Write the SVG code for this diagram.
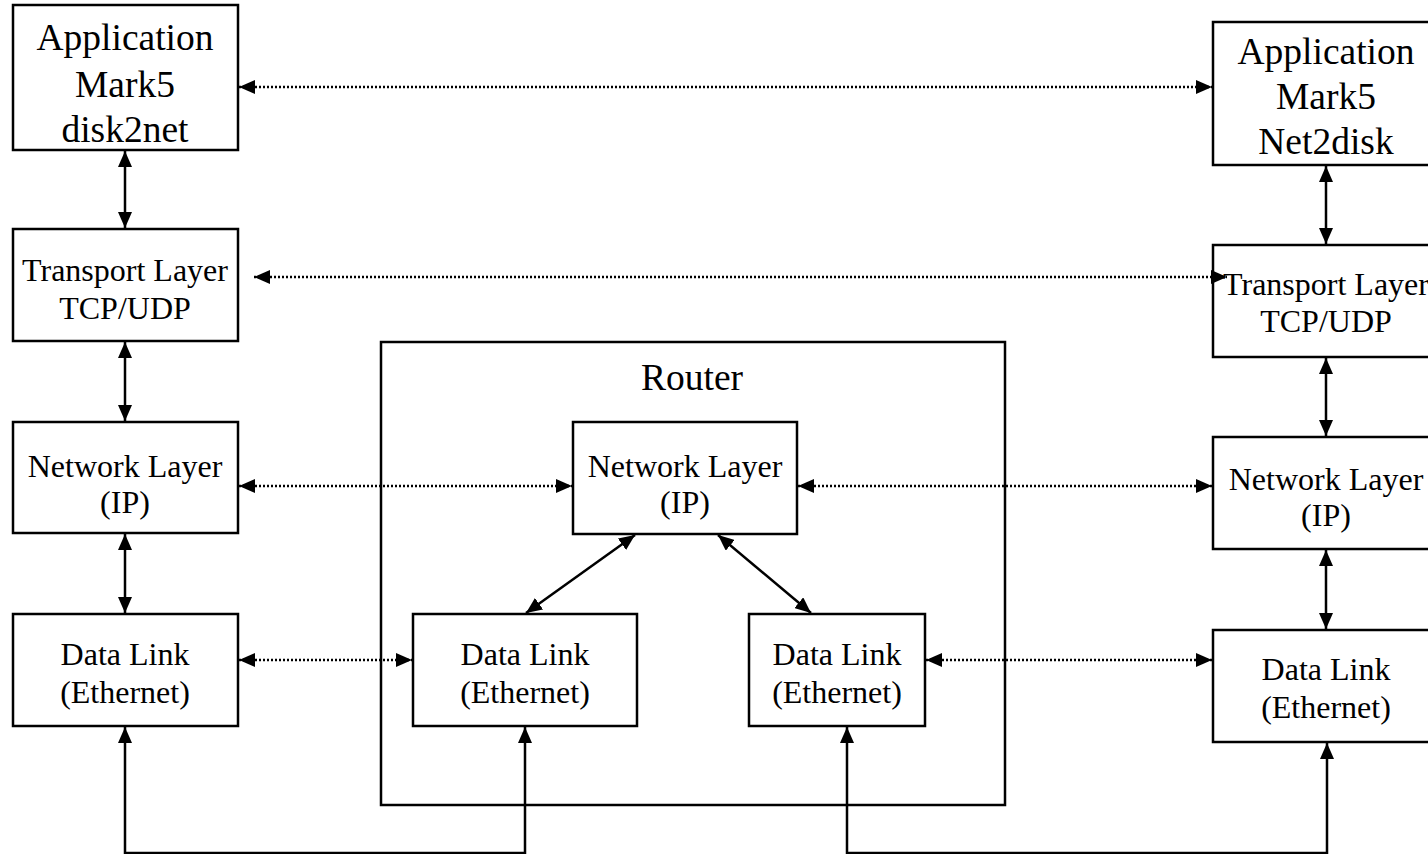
<svg xmlns="http://www.w3.org/2000/svg" width="1428" height="854" viewBox="0 0 1428 854">
<style>
.box{fill:#fff;stroke:#000;stroke-width:2.5}
.t{font-family:"Liberation Serif","Times New Roman",serif;fill:#000;text-anchor:middle}
.big{font-size:37.5px}
.sm{font-size:32px}
.solid{fill:none;stroke:#000;stroke-width:2.5}
.dot{fill:none;stroke:#000;stroke-width:2.5;stroke-dasharray:2 2}
</style>
<defs>
<marker id="ah" markerWidth="16" markerHeight="14" refX="16" refY="7" orient="auto-start-reverse" markerUnits="userSpaceOnUse">
<path d="M0,0 L16,7 L0,14 Z" fill="#000"/>
</marker>
</defs>
<rect width="1428" height="854" fill="#fff"/>
<g id="router">
<rect class="box" x="381" y="342" width="624" height="463" fill="none"/>
<text class="t big" x="692" y="390">Router</text>
</g>
<g id="app-left">
<rect class="box" x="13" y="5" width="225" height="145"/>
<text class="t big" x="125" y="50">Application</text>
<text class="t big" x="125" y="97">Mark5</text>
<text class="t big" x="125" y="142">disk2net</text>
</g>
<g id="app-right">
<rect class="box" x="1213" y="22" width="230" height="143"/>
<text class="t big" x="1326" y="64">Application</text>
<text class="t big" x="1326" y="109">Mark5</text>
<text class="t big" x="1326" y="154">Net2disk</text>
</g>
<g id="transport-left">
<rect class="box" x="13" y="229" width="225" height="112"/>
<text class="t sm" x="125" y="281">Transport Layer</text>
<text class="t sm" x="125" y="319">TCP/UDP</text>
</g>
<g id="transport-right">
<rect class="box" x="1213" y="245" width="230" height="112"/>
<text class="t sm" x="1326" y="295">Transport Layer</text>
<text class="t sm" x="1326" y="332">TCP/UDP</text>
</g>
<g id="network-left">
<rect class="box" x="13" y="422" width="225" height="111"/>
<text class="t sm" x="125" y="477">Network Layer</text>
<text class="t sm" x="125" y="513">(IP)</text>
</g>
<g id="network-router">
<rect class="box" x="573" y="422" width="224" height="112"/>
<text class="t sm" x="685" y="477">Network Layer</text>
<text class="t sm" x="685" y="513">(IP)</text>
</g>
<g id="network-right">
<rect class="box" x="1213" y="437" width="230" height="112"/>
<text class="t sm" x="1326" y="490">Network Layer</text>
<text class="t sm" x="1326" y="526">(IP)</text>
</g>
<g id="datalink-left">
<rect class="box" x="13" y="614" width="225" height="112"/>
<text class="t sm" x="125" y="665">Data Link</text>
<text class="t sm" x="125" y="703">(Ethernet)</text>
</g>
<g id="datalink-router1">
<rect class="box" x="413" y="614" width="224" height="112"/>
<text class="t sm" x="525" y="665">Data Link</text>
<text class="t sm" x="525" y="703">(Ethernet)</text>
</g>
<g id="datalink-router2">
<rect class="box" x="749" y="614" width="176" height="112"/>
<text class="t sm" x="837" y="665">Data Link</text>
<text class="t sm" x="837" y="703">(Ethernet)</text>
</g>
<g id="datalink-right">
<rect class="box" x="1213" y="630" width="230" height="112"/>
<text class="t sm" x="1326" y="680">Data Link</text>
<text class="t sm" x="1326" y="718">(Ethernet)</text>
</g>
<g id="connectors">
<line class="solid" x1="125" y1="151" x2="125" y2="228" marker-start="url(#ah)" marker-end="url(#ah)"/>
<line class="solid" x1="125" y1="342" x2="125" y2="421" marker-start="url(#ah)" marker-end="url(#ah)"/>
<line class="solid" x1="125" y1="534" x2="125" y2="613" marker-start="url(#ah)" marker-end="url(#ah)"/>
<line class="solid" x1="1326" y1="166" x2="1326" y2="244" marker-start="url(#ah)" marker-end="url(#ah)"/>
<line class="solid" x1="1326" y1="358" x2="1326" y2="436" marker-start="url(#ah)" marker-end="url(#ah)"/>
<line class="solid" x1="1326" y1="550" x2="1326" y2="629" marker-start="url(#ah)" marker-end="url(#ah)"/>
<line class="solid" x1="635" y1="535" x2="526" y2="613" marker-start="url(#ah)" marker-end="url(#ah)"/>
<line class="solid" x1="718" y1="535" x2="811" y2="613" marker-start="url(#ah)" marker-end="url(#ah)"/>
<polyline class="solid" points="125,727 125,853 525,853 525,727" marker-start="url(#ah)" marker-end="url(#ah)"/>
<polyline class="solid" points="847,727 847,853 1327,853 1327,743" marker-start="url(#ah)" marker-end="url(#ah)"/>
<line class="dot" x1="239" y1="87" x2="1212" y2="87" marker-start="url(#ah)" marker-end="url(#ah)"/>
<line class="dot" x1="254" y1="277" x2="1227" y2="277" marker-start="url(#ah)" marker-end="url(#ah)"/>
<line class="dot" x1="239" y1="486" x2="572" y2="486" marker-start="url(#ah)" marker-end="url(#ah)"/>
<line class="dot" x1="798" y1="486" x2="1212" y2="486" marker-start="url(#ah)" marker-end="url(#ah)"/>
<line class="dot" x1="239" y1="660" x2="412" y2="660" marker-start="url(#ah)" marker-end="url(#ah)"/>
<line class="dot" x1="926" y1="660" x2="1212" y2="660" marker-start="url(#ah)" marker-end="url(#ah)"/>
</g>
</svg>
